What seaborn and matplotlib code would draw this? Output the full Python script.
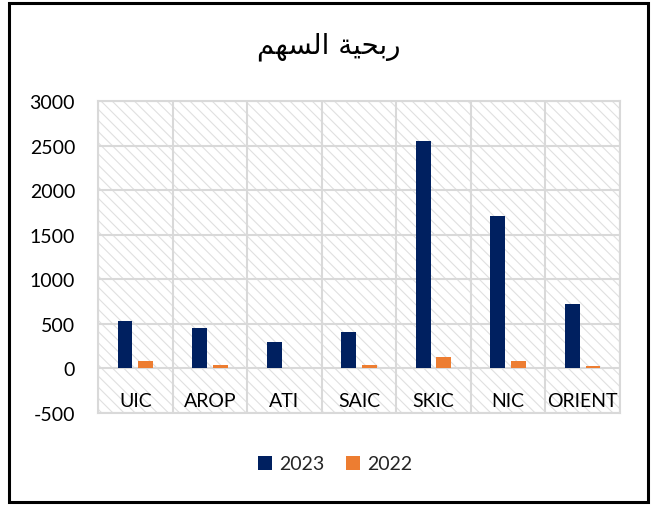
import matplotlib
matplotlib.use("Agg")
import matplotlib.pyplot as plt
import seaborn as sns
import pandas as pd
from matplotlib.patches import Rectangle

categories = ["UIC", "AROP", "ATI", "SAIC", "SKIC", "NIC", "ORIENT"]
series_names = ["2023", "2022"]
values_2023 = [528, 458, 300, 412, 2555, 1710, 728]
values_2022 = [80, 42, 0, 34, 124, 80, 30]
y_ticks = [-500, 0, 500, 1000, 1500, 2000, 2500, 3000]
# Title "ربحية السهم" written with Arabic presentation forms in visual order
title_text = "\uFEE2\uFEEC\uFEB4\uFEDF\uFE8D \uFE94\uFEF4\uFEA4\uFE91\uFEAD"

df = pd.DataFrame({
    "category": categories * 2,
    "year": [series_names[0]] * len(categories) + [series_names[1]] * len(categories),
    "value": values_2023 + values_2022,
})

sns.set_theme(style="white")
plt.rcParams["font.family"] = ["Lato", "DejaVu Sans"]
plt.rcParams["hatch.linewidth"] = 0.8

W, H = 651, 506
fig = plt.figure(figsize=(W / 100, H / 100), dpi=100)
ax = fig.add_axes([98 / W, (H - 414) / H, 522 / W, 312 / H])

grid_c = "#d9d9d9"
# hatched plot background
bg = Rectangle((0, 0), 1, 1, transform=ax.transAxes, facecolor="white",
               edgecolor="#e0e0e0", hatch="\\\\\\", lw=0, zorder=0)
ax.add_patch(bg)

sns.barplot(data=df, x="category", y="value", hue="year", order=categories,
            hue_order=series_names, palette=["#002060", "#ED7D31"], saturation=1,
            width=0.552, gap=0.275, errorbar=None, ax=ax, zorder=3,
            linewidth=0, legend=True)

ax.set_xlim(-0.5, len(categories) - 0.5)
ax.set_ylim(-500, 3000)
ax.set_yticks(y_ticks)
ax.set_yticklabels([str(t) for t in y_ticks], fontsize=14, color="#000000")
ax.tick_params(axis="y", length=0, pad=16.5)
ax.set_xticks([])
ax.set_xticks([i + 0.5 for i in range(-1, len(categories))], minor=True)
ax.tick_params(axis="x", which="both", length=0, labelbottom=False)
ax.set_xlabel("")
ax.set_ylabel("")

ax.grid(True, axis="y", which="major", color=grid_c, lw=1.5, zorder=1)
ax.grid(True, axis="x", which="minor", color=grid_c, lw=1.5, zorder=1)
ax.set_axisbelow(True)
for s in ax.spines.values():
    s.set_color(grid_c)
    s.set_linewidth(1.5)

for i, c in enumerate(categories):
    ax.text(i, -360, c, ha="center", va="center", fontsize=14, color="#000000", zorder=4)

handles, labels = ax.get_legend_handles_labels()
ax.get_legend().remove()
fig.legend(handles, labels, loc="center", bbox_to_anchor=(0.515, (H - 465) / H),
           ncol=2, frameon=False, fontsize=14, handlelength=0.7, handleheight=0.7,
           handletextpad=0.4, columnspacing=1.1)

fig.text(0.505, (H - 47) / H, title_text, ha="center", va="center", fontsize=20,
         family=["DejaVu Sans"], color="#000000")

# outer frame
fig.patches.append(Rectangle((8.5 / W, 3.5 / H), (648 - 8.5) / W, (502 - 3.5) / H,
                             transform=fig.transFigure, fill=False, edgecolor="black",
                             lw=2.2, zorder=10))

fig.savefig("out.png", dpi=100, facecolor="white")
